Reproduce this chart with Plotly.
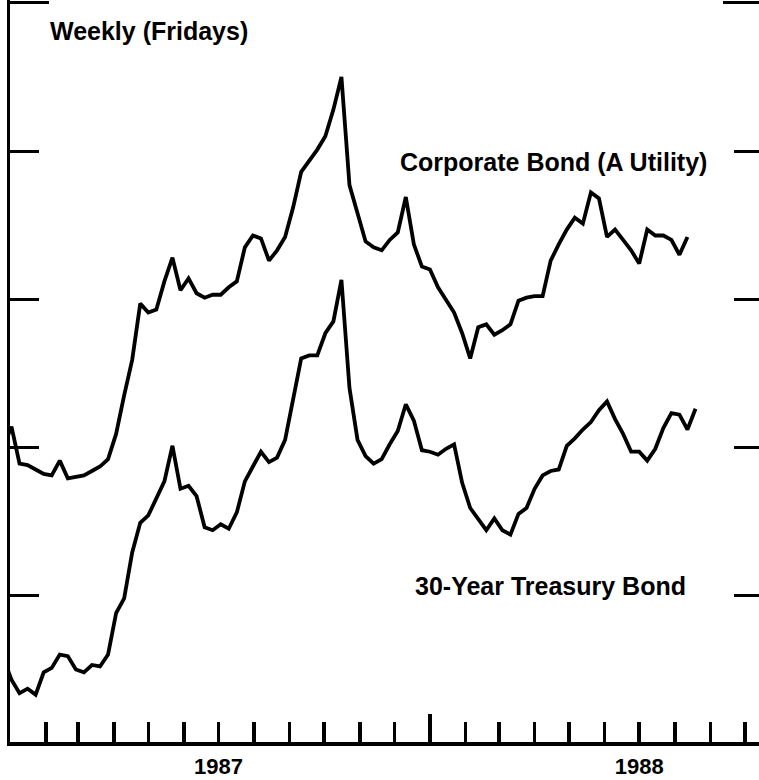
import pandas as pd
import plotly.graph_objects as go

# Weekly (Fridays) yields, percent
start_date = "1986-12-26"

treasury = [
    7.58, 7.43, 7.34, 7.37, 7.33, 7.48, 7.51, 7.60, 7.59, 7.50,
    7.48, 7.53, 7.52, 7.60, 7.88, 7.98, 8.29, 8.49, 8.54, 8.66,
    8.77, 9.01, 8.72, 8.74, 8.67, 8.46, 8.44, 8.48, 8.45, 8.56,
    8.77, 8.87, 8.97, 8.90, 8.93, 9.05, 9.34, 9.60, 9.62, 9.62,
    9.77, 9.85, 10.13, 9.40, 9.05, 8.94, 8.89, 8.92, 9.02, 9.11,
    9.29, 9.18, 8.98, 8.97, 8.95, 8.99, 9.02, 8.76, 8.59, 8.51,
    8.44, 8.52, 8.44, 8.41, 8.55, 8.59, 8.72, 8.81, 8.84, 8.85,
    9.01, 9.06, 9.12, 9.17, 9.25, 9.31, 9.19, 9.09, 8.97, 8.97,
    8.91, 8.99, 9.13, 9.23, 9.22, 9.12, 9.26,
]

corporate = [
    9.00, 9.14, 8.89, 8.88, 8.85, 8.82, 8.81, 8.91, 8.79, 8.80,
    8.81, 8.84, 8.87, 8.92, 9.09, 9.35, 9.59, 9.97, 9.91, 9.93,
    10.12, 10.28, 10.06, 10.14, 10.04, 10.01, 10.03, 10.03, 10.08, 10.12,
    10.35, 10.43, 10.41, 10.26, 10.33, 10.42, 10.62, 10.86, 10.93, 11.01,
    11.10, 11.28, 11.50, 10.77, 10.58, 10.39, 10.35, 10.33, 10.40, 10.45,
    10.69, 10.37, 10.22, 10.20, 10.08, 9.99, 9.91, 9.77, 9.60, 9.81,
    9.83, 9.76, 9.79, 9.83, 9.99, 10.01, 10.02, 10.02, 10.26, 10.37,
    10.47, 10.55, 10.51, 10.72, 10.68, 10.42, 10.47, 10.40, 10.33, 10.24,
    10.47, 10.43, 10.43, 10.40, 10.30, 10.42,
]

treasury_dates = pd.date_range(start_date, periods=len(treasury), freq="7D")
corporate_dates = pd.date_range(start_date, periods=len(corporate), freq="7D")

month_ticks = pd.date_range("1987-02-01", "1988-10-01", freq="MS")
year_label = {"1987-07-01": "1987", "1988-07-01": "1988"}
month_text = [year_label.get(d.strftime("%Y-%m-%d"), "") for d in month_ticks]
year_boundary = ["1988-01-01"]

y_ticks = [8, 9, 10, 11]
y_top_tick = [12]

X_RANGE = ["1986-12-31 17:00", "1988-10-13 05:00"]
Y_RANGE = [7.01, 12.02]
FONT = "Liberation Sans, Arial, Helvetica, sans-serif"
INK = "#000000"

fig = go.Figure()
fig.add_trace(go.Scatter(x=corporate_dates, y=corporate, mode="lines",
                         line=dict(color=INK, width=3.8), name="Corporate Bond (A Utility)",
                         hoverinfo="skip"))
fig.add_trace(go.Scatter(x=treasury_dates, y=treasury, mode="lines",
                         line=dict(color=INK, width=3.8), name="30-Year Treasury Bond",
                         hoverinfo="skip"))

# empty helper traces so that the extra tick-only axes get drawn
for xa, ya in [("x2", "y"), ("x", "y2"), ("x", "y3"), ("x", "y4")]:
    fig.add_trace(go.Scatter(x=[], y=[], xaxis=xa, yaxis=ya, mode="lines",
                             hoverinfo="skip", showlegend=False))

fig.update_layout(
    width=759, height=780,
    margin=dict(l=10, r=0, t=0, b=38, autoexpand=False),
    paper_bgcolor="white", plot_bgcolor="white",
    showlegend=False,
    font=dict(family=FONT, color=INK),
    xaxis=dict(
        type="date", range=X_RANGE, showgrid=False, zeroline=False,
        showline=True, linecolor=INK, linewidth=3.5,
        tickmode="array", tickvals=list(month_ticks), ticktext=month_text,
        ticks="inside", ticklen=20, tickwidth=3.5, tickcolor=INK,
        tickfont=dict(family=FONT, size=22, color=INK, weight="bold"),
        ticklabelstandoff=2, automargin=False,
    ),
    xaxis2=dict(
        type="date", range=X_RANGE, overlaying="x", anchor="y", side="bottom",
        showgrid=False, zeroline=False, showline=False,
        tickmode="array", tickvals=year_boundary, showticklabels=False,
        ticks="inside", ticklen=28, tickwidth=3.5, tickcolor=INK, automargin=False,
    ),
    yaxis=dict(
        range=Y_RANGE, showgrid=False, zeroline=False,
        showline=True, linecolor=INK, linewidth=3.5,
        tickmode="array", tickvals=y_ticks + y_top_tick, showticklabels=False,
        ticks="inside", ticklen=29, tickwidth=3, tickcolor=INK, automargin=False,
    ),
    yaxis2=dict(
        range=Y_RANGE, overlaying="y", side="right", anchor="x",
        showgrid=False, zeroline=False, showline=False,
        tickmode="array", tickvals=y_ticks, showticklabels=False,
        ticks="inside", ticklen=25, tickwidth=3, tickcolor=INK, automargin=False,
    ),
    yaxis3=dict(
        range=Y_RANGE, overlaying="y", side="left", anchor="free", position=0.004,
        showgrid=False, zeroline=False, showline=False,
        tickmode="array", tickvals=y_top_tick, showticklabels=False,
        ticks="inside", ticklen=35, tickwidth=3, tickcolor=INK, automargin=False,
    ),
    yaxis4=dict(
        range=Y_RANGE, overlaying="y", side="right", anchor="x",
        showgrid=False, zeroline=False, showline=False,
        tickmode="array", tickvals=y_top_tick, showticklabels=False,
        ticks="inside", ticklen=36, tickwidth=3, tickcolor=INK, automargin=False,
    ),
)

label_font = dict(family=FONT, size=25, color=INK)
fig.add_annotation(text="<b>Weekly (Fridays)</b>", xref="paper", yref="paper",
                   x=0.0507, y=0.958, xanchor="left", yanchor="middle",
                   showarrow=False, font=label_font)
fig.add_annotation(text="<b>Corporate Bond (A Utility)</b>", xref="paper", yref="paper",
                   x=0.518, y=0.7823, xanchor="left", yanchor="middle",
                   showarrow=False, font=label_font)
fig.add_annotation(text="<b>30-Year Treasury Bond</b>", xref="paper", yref="paper",
                   x=0.538, y=0.2102, xanchor="left", yanchor="middle",
                   showarrow=False, font=label_font)

fig.write_html(
    "out.html",
    config={"displayModeBar": False, "staticPlot": True},
    post_script="document.body.style.margin='0';document.body.style.overflow='hidden';",
)
